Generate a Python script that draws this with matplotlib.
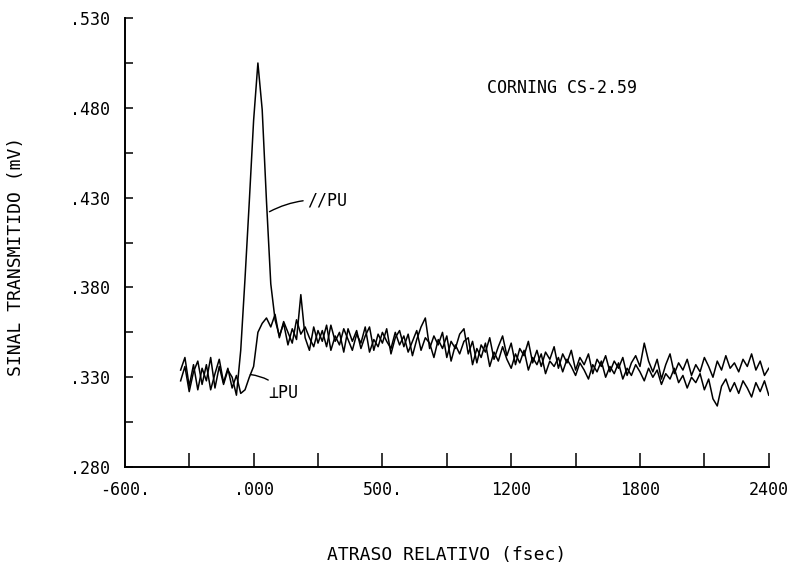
import numpy as np
from matplotlib import pyplot as plt
from matplotlib.ticker import FixedLocator

# plotter style font, falls back to DejaVu Sans for the perpendicular sign
plt.rcParams["font.family"] = ["DejaVu Sans Mono", "DejaVu Sans"]

# relative delay grid (fsec)
delay = np.arange(-340, 2401, 20)

# transmitted signal (mV), pump parallel
par_pu = [
    0.334, 0.341, 0.325, 0.337, 0.323, 0.335, 0.328, 0.341, 0.324, 0.336,
    0.326, 0.334, 0.330, 0.320, 0.345, 0.385, 0.428, 0.473, 0.505, 0.479,
    0.428, 0.382, 0.362, 0.353, 0.360, 0.348, 0.357, 0.351, 0.376, 0.352,
    0.345, 0.358, 0.349, 0.356, 0.347, 0.359, 0.350, 0.355, 0.344, 0.357,
    0.350, 0.356, 0.346, 0.353, 0.358, 0.345, 0.354, 0.349, 0.357, 0.343,
    0.352, 0.356, 0.347, 0.354, 0.342, 0.351, 0.358, 0.363, 0.346, 0.353,
    0.348, 0.355, 0.341, 0.350, 0.346, 0.354, 0.357, 0.343, 0.350, 0.338,
    0.348, 0.344, 0.352, 0.340, 0.347, 0.353, 0.342, 0.349, 0.337, 0.346,
    0.342, 0.350, 0.338, 0.345, 0.336, 0.344, 0.340, 0.347, 0.335, 0.343,
    0.338, 0.345, 0.334, 0.341, 0.337, 0.343, 0.332, 0.340, 0.336, 0.342,
    0.333, 0.339, 0.335, 0.341, 0.331, 0.338, 0.342, 0.336, 0.349, 0.339,
    0.333, 0.340, 0.329, 0.337, 0.343, 0.332, 0.338, 0.334, 0.340, 0.331,
    0.337, 0.333, 0.341, 0.336, 0.330, 0.339, 0.334, 0.342, 0.335, 0.338,
    0.333, 0.340, 0.336, 0.343, 0.334, 0.339, 0.331, 0.335,
]

# transmitted signal (mV), pump perpendicular
perp_pu = [
    0.328, 0.336, 0.322, 0.333, 0.339, 0.326, 0.337, 0.323, 0.332, 0.340,
    0.327, 0.335, 0.324, 0.331, 0.321, 0.323, 0.330, 0.336, 0.355, 0.360,
    0.363, 0.358, 0.365, 0.352, 0.361, 0.355, 0.349, 0.362, 0.354, 0.358,
    0.352, 0.347, 0.356, 0.350, 0.359, 0.345, 0.353, 0.348, 0.357, 0.351,
    0.345, 0.354, 0.349, 0.358, 0.344, 0.351, 0.347, 0.355, 0.350, 0.346,
    0.355, 0.348, 0.353, 0.344, 0.350, 0.356, 0.345, 0.352, 0.349, 0.341,
    0.351, 0.346, 0.353, 0.339, 0.348, 0.343, 0.350, 0.352, 0.337, 0.346,
    0.341, 0.349, 0.336, 0.344, 0.339, 0.347, 0.340, 0.335, 0.343, 0.338,
    0.345, 0.334, 0.341, 0.337, 0.343, 0.332, 0.339, 0.336, 0.341, 0.333,
    0.340, 0.336, 0.331, 0.338, 0.334, 0.329, 0.337, 0.333, 0.339, 0.330,
    0.336, 0.332, 0.338, 0.329, 0.335, 0.331, 0.337, 0.333, 0.328, 0.335,
    0.330, 0.334, 0.326, 0.332, 0.329, 0.335, 0.327, 0.331, 0.324, 0.330,
    0.327, 0.332, 0.323, 0.329, 0.318, 0.314, 0.325, 0.329, 0.322, 0.327,
    0.321, 0.328, 0.324, 0.319, 0.327, 0.322, 0.328, 0.320,
]

# axis ticks and labels
x_ticks = np.arange(-300, 2401, 300)
x_label_pos = [-600, 0, 600, 1200, 1800, 2400]
x_label_txt = ["-600.", ".000", "500.", "1200", "1800", "2400"]
y_major = [0.280, 0.330, 0.380, 0.430, 0.480, 0.530]
y_major_txt = [".280", ".330", ".380", ".430", ".480", ".530"]
y_minor = [0.305, 0.355, 0.405, 0.455, 0.505]

fig = plt.figure(figsize=(7.95, 5.77), dpi=100)
ax = fig.add_axes([0.157, 0.1906, 0.810, 0.778])

ax.plot(delay, par_pu, color="black", linewidth=1.1)
ax.plot(delay, perp_pu, color="black", linewidth=1.1)

ax.set_xlim(-600, 2400)
ax.set_ylim(0.280, 0.530)

# only left and bottom axis lines
ax.spines[["right", "top"]].set_visible(False)
ax.spines["left"].set_linewidth(1.4)
ax.spines["bottom"].set_linewidth(1.4)

# bottom ticks: marks every 300, labels every 600 (secondary axis for the text)
ax.xaxis.set_major_locator(FixedLocator(x_ticks))
ax.tick_params(axis="x", which="major", direction="in", length=10, width=1.1,
               labelbottom=False)
sec = ax.secondary_xaxis("bottom")
sec.set_xticks(x_label_pos)
sec.set_xticklabels(x_label_txt)
sec.tick_params(length=0, pad=10, labelsize=12)
sec.spines["bottom"].set_visible(False)

ax.yaxis.set_major_locator(FixedLocator(y_major))
ax.yaxis.set_minor_locator(FixedLocator(y_minor))
ax.set_yticklabels(y_major_txt)
ax.tick_params(axis="y", which="both", direction="in", length=6, width=1.1,
               pad=11, labelsize=12)

ax.set_xlabel("ATRASO RELATIVO (fsec)", fontsize=13)
ax.xaxis.set_label_coords(0.5, -0.175)
ax.set_ylabel("SINAL TRANSMITIDO (mV)", fontsize=13)
ax.yaxis.set_label_coords(-0.155, 0.47)

ax.text(1085, 0.4911, "CORNING CS-2.59", fontsize=12, ha="left", va="center")

# curve labels with short leader lines
ax.annotate("//PU", xy=(74, 0.4222), xytext=(250, 0.4285), fontsize=12,
            ha="left", va="center",
            arrowprops=dict(arrowstyle="-", color="black", lw=1.0,
                            shrinkA=1, shrinkB=0,
                            connectionstyle="arc3,rad=0.15"))
ax.annotate("\u22a5PU", xy=(-15, 0.3315), xytext=(68, 0.3215), fontsize=12,
            ha="left", va="center",
            arrowprops=dict(arrowstyle="-", color="black", lw=1.0,
                            shrinkA=1, shrinkB=0,
                            connectionstyle="arc3,rad=0.2"))

plt.savefig("out.png", dpi=100)
